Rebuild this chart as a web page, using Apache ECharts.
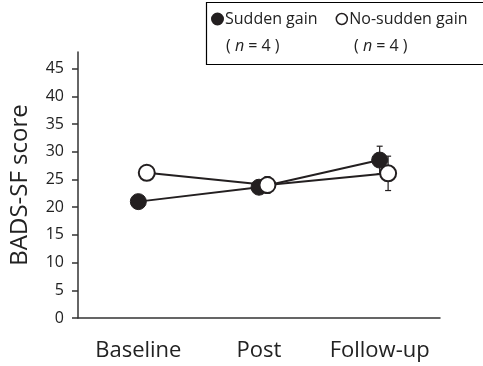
<!DOCTYPE html>
<html>
<head>
<meta charset="utf-8">
<script src="https://cdn.jsdelivr.net/npm/echarts@6/dist/echarts.min.js"></script>
<style>
  html, body { margin: 0; padding: 0; background: #fff; }
  #chart { width: 483px; height: 366px; }
</style>
</head>
<body>
<div id="chart"></div>
<script>
// data
const categories = ['Baseline', 'Post', 'Follow-up']
const suddenMean = [21, 23.6, 28.5]
const suddenErr = [1.0, 0.8, 2.5]
const noSuddenMean = [26.2, 24, 26.1]
const noSuddenErr = [1.0, 1.5, 3.1]
const yTicks = [0, 5, 10, 15, 20, 25, 30, 35, 40, 45]
const dodge = 0.07 // open markers sit a bit to the right of the filled ones

const font = '"Open Sans", "Noto Sans", sans-serif'
const ink = '#231f20'

const chart = echarts.init(document.getElementById('chart'))

const toPoints = (vals, shift) => vals.map((v, i) => [i + 1 + shift, v])
const toErr = (vals, errs, shift) => vals.map((v, i) => [i + 1 + shift, v - errs[i], v + errs[i]])

const errRender = (params, api) => {
  const x = api.value(0)
  const lo = api.coord([x, api.value(1)])
  const hi = api.coord([x, api.value(2)])
  const cap = 3
  const style = { stroke: ink, lineWidth: 1.2 }
  return {
    type: 'group',
    children: [
      { type: 'line', shape: { x1: lo[0], y1: lo[1], x2: hi[0], y2: hi[1] }, style },
      { type: 'line', shape: { x1: lo[0] - cap, y1: lo[1], x2: lo[0] + cap, y2: lo[1] }, style },
      { type: 'line', shape: { x1: hi[0] - cap, y1: hi[1], x2: hi[0] + cap, y2: hi[1] }, style }
    ]
  }
}

const nText = left => ({
  type: 'text',
  left,
  top: 38,
  style: {
    text: '( {i|n} = 4 )',
    fill: '#222',
    font: '16px ' + font,
    rich: { i: { fontStyle: 'italic', fontSize: 16, fontFamily: font, fill: '#222' } }
  }
})

const option = {
  animation: false,
  grid: { left: 75, right: 43, top: 52, bottom: 48 },
  xAxis: {
    type: 'value',
    min: 0.5,
    max: 3.5,
    splitLine: { show: false },
    axisLine: { lineStyle: { color: '#333', width: 1.5 } },
    axisTick: { show: false },
    axisLabel: {
      customValues: [1, 2, 3],
      formatter: v => categories[Math.round(v) - 1],
      color: '#222',
      fontFamily: font,
      fontSize: 22,
      margin: 22
    }
  },
  yAxis: {
    type: 'value',
    min: 0,
    max: 48,
    name: 'BADS-SF score',
    nameLocation: 'middle',
    nameGap: 46,
    nameTextStyle: { color: '#222', fontFamily: font, fontSize: 24 },
    splitLine: { show: false },
    axisLine: { show: true, lineStyle: { color: '#333', width: 1.5 } },
    axisTick: { show: true, customValues: yTicks, length: 6, lineStyle: { color: '#333', width: 1.5 } },
    axisLabel: {
      customValues: yTicks,
      color: '#222',
      fontFamily: font,
      fontSize: 16,
      margin: 14
    }
  },
  legend: {
    left: 205,
    top: 11,
    padding: [0, 0, 0, 6],
    itemGap: 18,
    itemWidth: 11,
    itemHeight: 11,
    textStyle: { color: '#222', fontFamily: font, fontSize: 16, padding: [0, 0, 0, -3] },
    data: [
      { name: 'Sudden gain', icon: 'circle', itemStyle: { color: ink } },
      { name: 'No-sudden gain', icon: 'circle', itemStyle: { color: '#fff', borderColor: ink, borderWidth: 1.5 } }
    ]
  },
  graphic: [
    {
      type: 'rect',
      left: 204,
      top: 0,
      shape: { width: 278, height: 62 },
      style: { fill: 'none', stroke: '#000', lineWidth: 1.2 }
    },
    nText(226),
    nText(354)
  ],
  series: [
    {
      type: 'custom',
      name: 'err-sudden',
      renderItem: errRender,
      data: toErr(suddenMean, suddenErr, 0),
      z: 1
    },
    {
      type: 'custom',
      name: 'err-nosudden',
      renderItem: errRender,
      data: toErr(noSuddenMean, noSuddenErr, dodge),
      z: 1
    },
    {
      name: 'Sudden gain',
      type: 'line',
      data: toPoints(suddenMean, 0),
      symbol: 'circle',
      symbolSize: 16,
      lineStyle: { color: ink, width: 2 },
      itemStyle: { color: ink, borderColor: ink, borderWidth: 1 },
      z: 3
    },
    {
      name: 'No-sudden gain',
      type: 'line',
      data: toPoints(noSuddenMean, dodge),
      symbol: 'circle',
      symbolSize: 16,
      lineStyle: { color: ink, width: 2 },
      itemStyle: { color: '#fff', borderColor: ink, borderWidth: 2 },
      z: 4
    }
  ]
}

chart.setOption(option)
</script>
</body>
</html>
